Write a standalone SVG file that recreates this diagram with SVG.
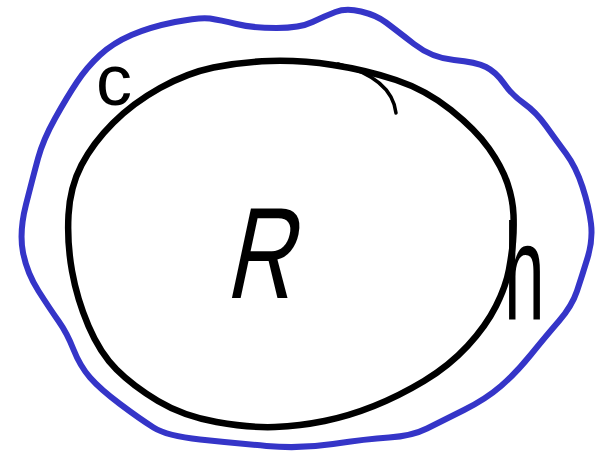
<svg xmlns="http://www.w3.org/2000/svg" width="599" height="456" viewBox="0 0 599 456">
<style>
.blue{fill:none;stroke:#3535c8;stroke-width:6;stroke-linecap:round;stroke-linejoin:round}
.blk{fill:none;stroke:#000;stroke-width:6.5;stroke-linecap:round;stroke-linejoin:round}
.lbl{font-family:"Liberation Sans",Arial,sans-serif;fill:#000}
</style>
<rect width="599" height="456" fill="#fff"/>
<g id="outer">
<path class="blue" d="M23,252.5 Q19,232 26,204.5 Q33,177 38,158.5 Q43,140 55,118.5 Q67,97 77,82 Q87,67 100,55 Q113,43 131.5,35 Q150,27 175,22 Q200,17 210,18.5 Q220,20 236.5,24 Q253,28 276.5,28 Q300,28 312.5,22 Q325,16 335.5,12 Q346,8 361,11.5 Q376,15 386,22.5 Q396,30 414,44 Q432,58 454,60 Q476,62 486,67 Q496,72 504,83.5 Q512,95 524,103.5 Q536,112 546,126 Q556,140 566,153.5 Q576,167 582.5,187 Q589,207 591,223.5 Q593,240 587.5,258 Q582,276 577,291 Q572,306 559,321 Q546,336 531,354.5 Q516,373 501,386 Q486,399 464,410 Q442,421 427,428.5 Q412,436 389,437.5 Q366,439 333,444 Q300,449 266.5,446 Q233,443 200,439.5 Q167,436 153.5,427.5 Q140,419 120,404 Q100,389 90,377.5 Q80,366 73.5,349.5 Q67,333 58.5,321 Q50,309 38.5,291 Q27,273 23,252.5 Z"/>
</g>
<g id="circle">
<path class="blk" d="M270,61 Q300,60 333,65 Q366,70 396,80 Q426,90 451,110 Q476,130 489,148.5 Q502,167 507.5,183.5 Q513,200 513.5,215 Q514,230 513,241.5 Q512,253 509,269.5 Q506,286 496,306 Q486,326 467.5,346 Q449,366 424,381 Q399,396 374,406 Q349,416 324.5,421 Q300,426 275,427 Q250,428 216.5,422 Q183,416 158,401 Q133,386 116.5,369.5 Q100,353 88.5,326 Q77,299 72,271 Q67,243 68.5,215 Q70,187 81.5,165 Q93,143 113,123 Q133,103 160,88 Q187,73 213.5,67.5 Q240,62 270,61 Z"/>
<path d="M338,64 Q392,78 396,113" fill="none" stroke="#000" stroke-width="3.5" stroke-linecap="round"/>
</g>
<g id="label-R">
<text class="lbl" font-size="130" text-anchor="middle" transform="translate(258,298) skewX(-12) scale(0.72,1)">R</text>
</g>
<g id="label-c">
<text class="lbl" font-size="72" text-anchor="middle" x="114" y="105">c</text>
</g>
<g id="label-h">
<text class="lbl" font-size="138" transform="translate(504,320) scale(0.53,1)">h</text>
</g>
</svg>
